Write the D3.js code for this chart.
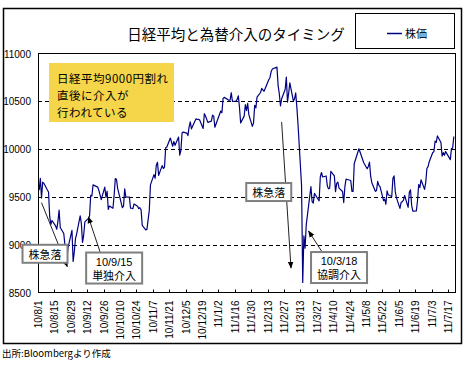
<!DOCTYPE html>
<html><head><meta charset="utf-8">
<script src="https://cdn.jsdelivr.net/npm/d3@7"></script>
<style>body{margin:0;background:#fff}svg{display:block}</style>
</head><body><svg id="c" width="468" height="365"></svg>
<script>
const title = "日経平均と為替介入のタイミング";
const seriesName = "株価";
const sourceNote = "出所:Bloombergより作成";
const noteLines = ["日経平均9000円割れ", "直後に介入が", "行われている"];
const yTicks = [8500, 9000, 9500, 10000, 10500, 11000];
const xTickLabels = ["10/8/1","10/8/15","10/8/29","10/9/12","10/9/26","10/10/10","10/10/24","10/11/7","10/11/21","10/12/5","10/12/19","11/1/2","11/1/16","11/1/30","11/2/13","11/2/27","11/3/13","11/3/27","11/4/10","11/4/24","11/5/8","11/5/22","11/6/5","11/6/19","11/7/3","11/7/17"];

const dates = [
"10/8/2","10/8/3","10/8/4","10/8/5","10/8/6","10/8/9","10/8/10","10/8/11","10/8/12","10/8/13","10/8/16","10/8/17","10/8/18","10/8/19","10/8/20","10/8/23","10/8/24","10/8/25","10/8/26","10/8/27","10/8/30","10/8/31",
"10/9/1","10/9/2","10/9/3","10/9/6","10/9/7","10/9/8","10/9/9","10/9/10","10/9/13","10/9/14","10/9/15","10/9/16","10/9/17","10/9/21","10/9/22","10/9/24","10/9/27","10/9/28","10/9/29","10/9/30",
"10/10/1","10/10/4","10/10/5","10/10/6","10/10/7","10/10/8","10/10/12","10/10/13","10/10/14","10/10/15","10/10/18","10/10/19","10/10/20","10/10/21","10/10/22","10/10/25","10/10/26","10/10/27","10/10/28","10/10/29",
"10/11/1","10/11/2","10/11/4","10/11/5","10/11/8","10/11/9","10/11/10","10/11/11","10/11/12","10/11/15","10/11/16","10/11/17","10/11/18","10/11/19","10/11/22","10/11/24","10/11/25","10/11/26","10/11/29","10/11/30",
"10/12/1","10/12/2","10/12/3","10/12/6","10/12/7","10/12/8","10/12/9","10/12/10","10/12/13","10/12/14","10/12/15","10/12/16","10/12/17","10/12/20","10/12/21","10/12/22","10/12/24","10/12/27","10/12/28","10/12/29","10/12/30",
"11/1/4","11/1/5","11/1/6","11/1/7","11/1/11","11/1/12","11/1/13","11/1/14","11/1/17","11/1/18","11/1/19","11/1/20","11/1/21","11/1/24","11/1/25","11/1/26","11/1/27","11/1/28","11/1/31",
"11/2/1","11/2/2","11/2/3","11/2/4","11/2/7","11/2/8","11/2/9","11/2/10","11/2/14","11/2/15","11/2/16","11/2/17","11/2/18","11/2/21","11/2/22","11/2/23","11/2/24","11/2/25","11/2/28",
"11/3/1","11/3/2","11/3/3","11/3/4","11/3/7","11/3/8","11/3/9","11/3/10","11/3/11","11/3/14","11/3/15","11/3/16","11/3/17","11/3/18","11/3/22","11/3/23","11/3/24","11/3/25","11/3/28","11/3/29","11/3/30","11/3/31",
"11/4/1","11/4/4","11/4/5","11/4/6","11/4/7","11/4/8","11/4/11","11/4/12","11/4/13","11/4/14","11/4/15","11/4/18","11/4/19","11/4/20","11/4/21","11/4/22","11/4/25","11/4/26","11/4/27","11/4/28",
"11/5/2","11/5/6","11/5/9","11/5/10","11/5/11","11/5/12","11/5/13","11/5/16","11/5/17","11/5/18","11/5/19","11/5/20","11/5/23","11/5/24","11/5/25","11/5/26","11/5/27","11/5/30","11/5/31",
"11/6/1","11/6/2","11/6/3","11/6/6","11/6/7","11/6/8","11/6/9","11/6/10","11/6/13","11/6/14","11/6/15","11/6/16","11/6/17","11/6/20","11/6/21","11/6/22","11/6/23","11/6/24","11/6/27","11/6/28","11/6/29","11/6/30",
"11/7/1","11/7/4","11/7/5","11/7/6","11/7/7","11/7/8","11/7/11","11/7/12","11/7/13","11/7/14","11/7/15","11/7/19","11/7/20","11/7/21","11/7/22"];

const closes = [
9570.31,9694.01,9489.34,9653.92,9642.12,9572.49,9551.05,9292.85,9212.59,9253.46,9196.67,9161.68,9240.54,9362.68,9179.38,9116.69,8995.14,8845.39,8906.48,8991.06,9149.26,8824.06,
8927.02,9062.84,9114.13,9301.32,9226.00,9024.60,9098.39,9239.17,9275.04,9299.31,9516.56,9509.50,9626.09,9602.11,9566.32,9471.67,9603.14,9495.76,9559.38,9369.35,
9404.23,9381.06,9518.76,9691.43,9684.81,9588.88,9388.64,9403.51,9583.51,9500.25,9498.49,9381.60,9381.06,9376.48,9426.71,9401.16,9377.38,9387.03,9366.03,9202.45,
9154.72,9159.98,9358.78,9625.99,9732.92,9694.49,9830.52,9861.46,9724.81,9827.51,9797.10,9811.66,10013.63,10022.39,10115.19,10030.11,10079.76,10039.56,10125.99,9937.04,
9988.05,10168.52,10178.32,10167.23,10141.10,10232.33,10285.88,10211.95,10293.89,10316.77,10309.78,10311.29,10303.83,10216.41,10370.53,10346.48,10279.19,10292.63,10355.99,10344.54,10228.92,
10398.10,10380.77,10529.76,10541.04,10510.68,10512.80,10589.76,10499.04,10502.86,10518.98,10557.10,10437.31,10274.52,10345.11,10464.42,10401.90,10478.66,10360.34,10237.92,
10274.50,10457.36,10431.36,10543.52,10592.04,10635.98,10617.83,10605.65,10725.54,10746.67,10808.29,10836.64,10842.80,10857.53,10664.70,10579.10,10452.71,10526.76,10624.09,
10754.03,10492.38,10586.02,10693.66,10505.02,10525.19,10589.50,10434.38,10254.43,9620.49,8605.15,9093.72,8962.67,9206.75,9608.32,9449.47,9435.01,9536.13,9478.53,9459.08,9708.79,9755.10,
9708.39,9718.89,9615.55,9584.37,9590.93,9768.08,9719.70,9555.26,9641.18,9653.92,9591.52,9556.65,9441.03,9606.82,9685.77,9682.21,9671.96,9558.69,9558.30,9849.74,
10004.20,9859.20,9794.38,9818.76,9864.26,9716.65,9648.77,9558.30,9567.02,9662.08,9620.82,9607.08,9460.63,9477.17,9422.88,9562.05,9521.94,9504.97,9693.73,
9719.61,9555.04,9492.21,9380.35,9442.95,9449.46,9467.15,9514.44,9391.03,9547.79,9574.32,9411.28,9351.40,9354.32,9459.65,9629.43,9596.74,9678.71,9578.31,9648.98,9797.26,9816.09,
9868.07,9965.09,9972.46,10082.48,10071.14,10137.73,10069.53,9925.92,9963.14,9936.12,9974.47,9889.72,10005.90,10010.39,10132.11];

// callouts anchored in data space: arrow tail, arrow tip, box centre
const calloutTexts = [["株急落"], ["10/9/15", "単独介入"], ["株急落"], ["10/3/18", "協調介入"]];
const calloutTail = [["10/8/4", 9440], ["10/9/23", 8924], ["11/2/25", 10283], ["11/3/31", 8934]];
const calloutTip  = [["10/8/26", 8770], ["10/9/13", 9290], ["11/3/5", 8756], ["11/3/20", 9143]];
const calloutBox  = [["10/8/7", 8905], ["10/10/5", 8756], ["11/2/14", 9551], ["11/4/15", 8761]];

const parse = s => { const [a, b, c] = s.split("/").map(Number); return new Date(2000 + a, b - 1, c); };

const svg = d3.select("#c");
const CJK = "'Noto Sans CJK JP', sans-serif";
const LAT = "'Liberation Sans', Arial, sans-serif";
const L = 38, R = 455, T = 53.5, B = 292.5;

const x = d3.scaleTime().domain([parse("10/8/1"), parse("11/7/23")]).range([L, R]);
const y = d3.scaleLinear().domain([8500, 11000]).range([B, T]);

svg.append("rect").attr("x", 0).attr("y", 0).attr("width", 468).attr("height", 365).attr("fill", "#fff");
// outer frame
svg.append("rect").attr("x", 3.5).attr("y", 8.5).attr("width", 458).attr("height", 335)
  .attr("fill", "none").attr("stroke", "#000").attr("stroke-width", 1.5);

// gridlines
svg.append("g").selectAll("line").data(yTicks.filter(v => v > 8500 && v < 11000)).join("line")
  .attr("x1", L).attr("x2", R)
  .attr("y1", d => Math.round(y(d)) + 0.5).attr("y2", d => Math.round(y(d)) + 0.5)
  .attr("stroke", "#000").attr("stroke-width", 1).attr("stroke-dasharray", "4,3");

// y axis labels
const yAxis = d3.axisLeft(y).tickValues(yTicks).tickSize(0).tickPadding(0).tickFormat(d3.format("d"));
const gy = svg.append("g").attr("transform", "translate(31,0)").call(yAxis);
gy.select(".domain").remove();
gy.selectAll("text").attr("font-family", LAT).attr("font-size", 10).attr("fill", "#000").attr("dy", "0.35em");

// x axis
const xDates = xTickLabels.map(parse);
const xAxis = d3.axisBottom(x).tickValues(xDates).tickSizeInner(-3).tickSizeOuter(0).tickFormat((d, i) => xTickLabels[i]);
const gx = svg.append("g").attr("transform", `translate(0,${B})`).call(xAxis);
gx.select(".domain").remove();
gx.selectAll(".tick line").attr("stroke", "#000");
gx.selectAll(".tick").attr("transform", d => `translate(${Math.round(x(d)) + 0.5},0)`);
gx.selectAll("text").attr("font-family", LAT).attr("font-size", 10).attr("fill", "#000")
  .attr("text-anchor", "end").attr("transform", "translate(0,8) rotate(-90)").attr("x", 0).attr("y", 0).attr("dy", "0.35em");

// data line
const pts = dates.map((d, i) => [parse(d), closes[i]]);
svg.append("path").datum(pts)
  .attr("fill", "none").attr("stroke", "#000080").attr("stroke-width", 1.2).attr("stroke-linejoin", "round")
  .attr("d", d3.line().x(d => x(d[0])).y(d => y(d[1])));

// plot frame
svg.append("rect").attr("x", L + 0.5).attr("y", T).attr("width", R - L).attr("height", B - T)
  .attr("fill", "none").attr("stroke", "#000").attr("stroke-width", 1);

// yellow note
svg.append("rect").attr("x", 49).attr("y", 63).attr("width", 125).attr("height", 59).attr("fill", "#F5D64B");
svg.append("g").selectAll("text").data(noteLines).join("text")
  .attr("x", 57).attr("y", (d, i) => 78.3 + i * 16.7).attr("dominant-baseline", "central")
  .attr("font-family", CJK).attr("font-size", 11.5).attr("letter-spacing", 0.5).attr("fill", "#000").text(d => d);

// arrow marker
svg.append("defs").append("marker").attr("id", "ah").attr("viewBox", "0 0 10 10")
  .attr("refX", 9).attr("refY", 5).attr("markerWidth", 7).attr("markerHeight", 7)
  .attr("markerUnits", "userSpaceOnUse").attr("orient", "auto")
  .append("path").attr("d", "M0,1 L10,5 L0,9 Z").attr("fill", "#000");

const cg = svg.append("g");
calloutTexts.forEach((lines, i) => {
  cg.append("line")
    .attr("x1", x(parse(calloutTail[i][0]))).attr("y1", y(calloutTail[i][1]))
    .attr("x2", x(parse(calloutTip[i][0]))).attr("y2", y(calloutTip[i][1]))
    .attr("stroke", "#222").attr("stroke-width", 1).attr("marker-end", "url(#ah)");
});
calloutTexts.forEach((lines, i) => {
  const cx = x(parse(calloutBox[i][0])), cy = y(calloutBox[i][1]);
  const g = cg.append("g");
  const lh = 13;
  const texts = g.selectAll("text").data(lines).join("text")
    .attr("x", cx).attr("y", (d, j) => cy + (j - (lines.length - 1) / 2) * lh)
    .attr("text-anchor", "middle").attr("dominant-baseline", "central")
    .attr("font-family", d => /^[0-9\/]+$/.test(d) ? LAT : CJK)
    .attr("font-size", 11).attr("fill", "#000").text(d => d);
  let w = 0;
  texts.each(function () { w = Math.max(w, this.getComputedTextLength()); });
  const bw = w + 12, bh = lines.length * lh + 5;
  g.insert("rect", "text").attr("x", cx - bw / 2).attr("y", cy - bh / 2).attr("width", bw).attr("height", bh)
    .attr("fill", "#fff").attr("stroke", "#7f7f7f").attr("stroke-width", 2);
});

// title
svg.append("text").attr("x", 236).attr("y", 33).attr("text-anchor", "middle").attr("dominant-baseline", "central")
  .attr("font-family", CJK).attr("font-size", 14.5).attr("fill", "#000").text(title);

// legend
svg.append("rect").attr("x", 355.5).attr("y", 13.5).attr("width", 99).attr("height", 35)
  .attr("fill", "#fff").attr("stroke", "#000").attr("stroke-width", 1);
svg.append("line").attr("x1", 387).attr("x2", 402).attr("y1", 33.5).attr("y2", 33.5)
  .attr("stroke", "#000080").attr("stroke-width", 1.5);
svg.append("text").attr("x", 405).attr("y", 33).attr("dominant-baseline", "central")
  .attr("font-family", CJK).attr("font-size", 11).attr("fill", "#000").text(seriesName);

// source
svg.append("text").attr("x", 2).attr("y", 353).attr("dominant-baseline", "central")
  .attr("font-family", CJK).attr("font-size", 9.5).attr("fill", "#000").text(sourceNote);
</script></body></html>
